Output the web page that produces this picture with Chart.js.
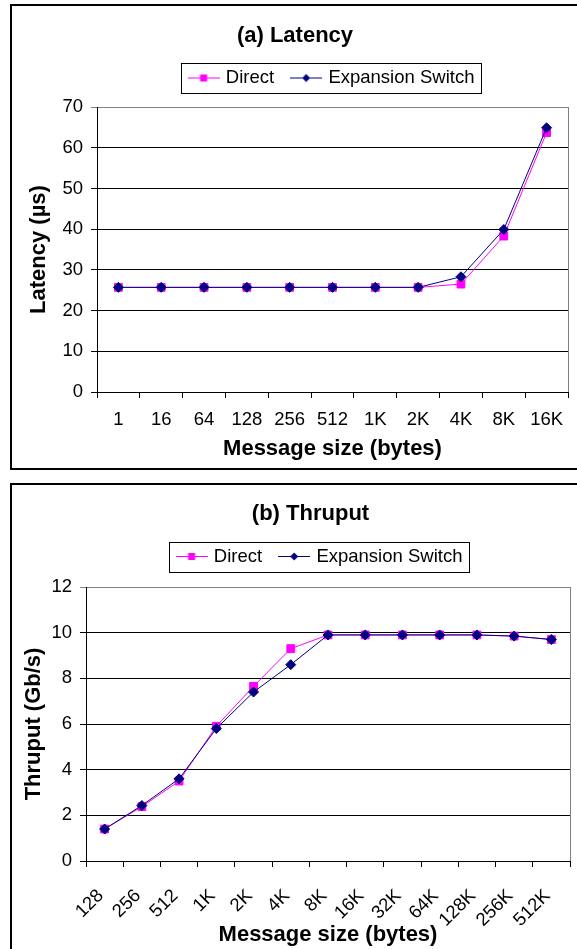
<!DOCTYPE html>
<html>
<head>
<meta charset="utf-8">
<script src="https://cdn.jsdelivr.net/npm/chart.js@4.4.1/dist/chart.umd.min.js"></script>
<style>
  html, body { margin: 0; padding: 0; background: #fff; width: 577px; height: 949px; overflow: hidden; position: relative; }
  .frame { position: absolute; border: 2px solid #000; box-sizing: border-box; }
  canvas { position: absolute; left: 0; }
</style>
</head>
<body>
<div class="frame" style="left:10px; top:4px; width:620px; height:466px"></div>
<div class="frame" style="left:10px; top:483px; width:620px; height:520px"></div>
<canvas id="latencyChart" width="577" height="476" style="top:0"></canvas>
<canvas id="thruputChart" width="577" height="473" style="top:476px"></canvas>
<script>
// (a) Latency
const latencySizes = ['1', '16', '64', '128', '256', '512', '1K', '2K', '4K', '8K', '16K'];
const latencyDirect = [25.7, 25.7, 25.7, 25.7, 25.7, 25.7, 25.7, 25.7, 26.5, 38.3, 63.7];
const latencySwitch = [25.7, 25.7, 25.7, 25.7, 25.7, 25.7, 25.7, 25.7, 28.3, 39.9, 64.9];

// (b) Thruput
const thruputSizes = ['128', '256', '512', '1K', '2K', '4K', '8K', '16K', '32K', '64K', '128K', '256K', '512K'];
const thruputDirect = [1.4, 2.38, 3.5, 5.9, 7.65, 9.3, 9.9, 9.9, 9.9, 9.9, 9.9, 9.85, 9.7];
const thruputSwitch = [1.4, 2.43, 3.6, 5.8, 7.4, 8.6, 9.9, 9.9, 9.9, 9.9, 9.9, 9.85, 9.7];

const FONT = '"Liberation Sans", Arial, sans-serif';
const MAGENTA = '#ff00ff';
const NAVY = '#000080';

Chart.defaults.font.family = FONT;
Chart.defaults.font.size = 18.5;
Chart.defaults.color = '#000';

// little line+marker picture for the legend, like the Excel legend keys
function legendKey(color, shape) {
    const c = document.createElement('canvas');
    c.width = 32; c.height = 11;
    const g = c.getContext('2d');
    g.strokeStyle = color;
    g.fillStyle = color;
    g.lineWidth = 1;
    g.beginPath(); g.moveTo(0, 5.5); g.lineTo(32, 5.5); g.stroke();
    if (shape === 'rect') {
        g.fillRect(12.5, 2, 7, 7);
    } else {
        g.beginPath();
        g.moveTo(16, 1.5); g.lineTo(20, 5.5); g.lineTo(16, 9.5); g.lineTo(12, 5.5);
        g.closePath(); g.fill();
    }
    return c;
}
const keyDirect = legendKey(MAGENTA, 'rect');
const keySwitch = legendKey(NAVY, 'diamond');

// moves title/legend, boxes the legend, greys the plot frame
const excelLook = {
    id: 'excelLook',
    afterInit(chart, args, opts) {
        const lg = chart.legend;
        const fit = lg.fit;
        lg.fit = function () { fit.call(this); this.height += opts.legendExtra; };
    },
    afterLayout(chart, args, opts) {
        const lg = chart.legend, tb = chart.titleBlock;
        const dl = opts.legendX - (lg.left + lg.right) / 2;
        lg.left += dl; lg.right += dl;
        const dt = opts.titleX - (tb.left + tb.right) / 2;
        tb.left += dt; tb.right += dt;
    },
    afterDraw(chart) {
        const ctx = chart.ctx;
        const hb = chart.legend.legendHitBoxes;
        const last = hb[hb.length - 1];
        const x0 = Math.round(hb[0].left - 10), x1 = Math.round(last.left + last.width + 7);
        const yc = Math.round(hb[0].top + hb[0].height / 2);
        const a = chart.chartArea;
        ctx.save();
        ctx.lineWidth = 1;
        ctx.strokeStyle = '#000';
        ctx.strokeRect(x0 + 0.5, yc - 15 + 0.5, x1 - x0, 30);
        ctx.strokeStyle = '#808080';
        ctx.beginPath();
        ctx.moveTo(Math.round(a.right) + 0.5, a.top);
        ctx.lineTo(Math.round(a.right) + 0.5, a.bottom);
        ctx.stroke();
        ctx.restore();
    }
};

function makeChart(id, cfg) {
    const ds = (label, data, color, style, radius, order) => ({
        label, data, order,
        borderColor: color, backgroundColor: color,
        borderWidth: 1, tension: 0,
        pointStyle: style, pointRadius: radius,
        pointBackgroundColor: color, pointBorderColor: color, pointBorderWidth: 1
    });

    return new Chart(document.getElementById(id), {
        type: 'line',
        data: {
            labels: cfg.labels,
            datasets: [
                ds('Direct', cfg.direct, MAGENTA, 'rect', 5.5, 2),
                ds('Expansion Switch', cfg.sw, NAVY, 'rectRot', 5, 1)
            ]
        },
        options: {
            responsive: false,
            animation: false,
            events: [],
            layout: { padding: { left: 0, right: cfg.padRight, top: 0, bottom: 0 } },
            plugins: {
                tooltip: { enabled: false },
                title: {
                    display: true,
                    text: cfg.title,
                    font: { size: 22, weight: 'bold' },
                    padding: { top: cfg.titleTop, bottom: cfg.titleBottom }
                },
                legend: {
                    labels: {
                        usePointStyle: true,
                        pointStyleWidth: 26,
                        padding: 19,
                        font: { size: 18.5 },
                        generateLabels: () => [
                            { text: 'Direct', pointStyle: keyDirect, datasetIndex: 0, lineWidth: 0, strokeStyle: MAGENTA, fillStyle: MAGENTA },
                            { text: 'Expansion Switch', pointStyle: keySwitch, datasetIndex: 1, lineWidth: 0, strokeStyle: NAVY, fillStyle: NAVY }
                        ]
                    }
                },
                excelLook: { titleX: cfg.titleX, legendX: cfg.legendX, legendExtra: cfg.legendExtra }
            },
            scales: {
                x: {
                    offset: true,
                    grid: { offset: true, drawOnChartArea: false, drawTicks: true, tickLength: 6, color: '#000' },
                    border: { display: true, color: '#000', width: 1 },
                    ticks: {
                        autoSkip: false, minRotation: cfg.rot, maxRotation: cfg.rot,
                        padding: cfg.xPad, labelOffset: cfg.xShift, font: { size: 18.5 }
                    },
                    title: {
                        display: true, text: 'Message size (bytes)',
                        font: { size: 22, weight: 'bold' },
                        padding: { top: 0, bottom: cfg.xTitleBottom }
                    },
                    afterFit: s => {
                        s.height = cfg.xHeight;
                        // labels never spill past the plot edges here
                        s.paddingLeft = 0;
                        s.paddingRight = 0;
                    }
                },
                y: {
                    min: 0, max: cfg.yMax,
                    grid: {
                        tickLength: 6,
                        color: c => (c.tick && c.tick.value === cfg.yMax ? '#808080' : '#000')
                    },
                    border: { display: true, color: '#000', width: 1 },
                    ticks: { stepSize: cfg.yStep, padding: 8, font: { size: 18.5 } },
                    title: {
                        display: true, text: cfg.yTitle,
                        font: { size: 22, weight: 'bold' },
                        padding: { top: cfg.yTitleTop, bottom: 0 }
                    },
                    afterFit: s => { s.width = cfg.yWidth; }
                }
            }
        },
        plugins: [excelLook]
    });
}

makeChart('latencyChart', {
    labels: latencySizes, direct: latencyDirect, sw: latencySwitch,
    title: '(a) Latency', yTitle: 'Latency (µs)',
    yMax: 70, yStep: 10,
    titleX: 295, legendX: 332.5, legendExtra: 9.75,
    titleTop: 22.8, titleBottom: 0.55,
    padRight: 9, yWidth: 97, yTitleTop: 25.8,
    xHeight: 84, xPad: 11, xShift: 0, xTitleBottom: 13.5, rot: 0
});

makeChart('thruputChart', {
    labels: thruputSizes, direct: thruputDirect, sw: thruputSwitch,
    title: '(b) Thruput', yTitle: 'Thruput (Gb/s)',
    yMax: 12, yStep: 2,
    titleX: 310.5, legendX: 320.5, legendExtra: 11.25,
    titleTop: 24.8, titleBottom: 1.05,
    padRight: 7, yWidth: 86, yTitleTop: 20.8,
    xHeight: 88, xPad: 18, xShift: -4, xTitleBottom: 0.5, rot: 45
});
</script>
</body>
</html>
